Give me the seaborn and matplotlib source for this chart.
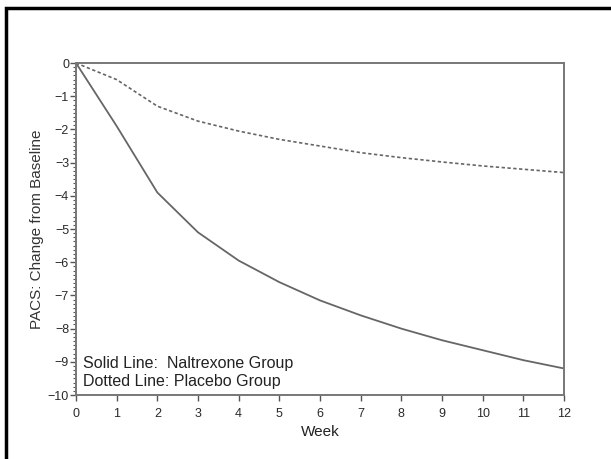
import matplotlib
matplotlib.use("Agg")
import matplotlib.pyplot as plt
from matplotlib.ticker import MultipleLocator
from matplotlib.patches import Rectangle
import seaborn as sns
import pandas as pd

weeks = [0, 1, 2, 3, 4, 5, 6, 7, 8, 9, 10, 11, 12]
naltrexone = [0, -1.9, -3.9, -5.1, -5.95, -6.6, -7.15, -7.6, -8.0, -8.35, -8.65, -8.95, -9.2]
placebo = [0, -0.5, -1.3, -1.75, -2.05, -2.3, -2.5, -2.7, -2.85, -2.98, -3.1, -3.2, -3.3]
x_ticks = list(range(0, 13))
y_ticks = list(range(-10, 1))

sns.set_theme(style="white")
plt.rcParams['font.family'] = ['Liberation Sans', 'DejaVu Sans']

df = pd.DataFrame({
    "Week": weeks * 2,
    "Change": naltrexone + placebo,
    "Group": ["Naltrexone"] * len(weeks) + ["Placebo"] * len(weeks),
})

fig = plt.figure(figsize=(6.11, 4.59), dpi=100)
ax = fig.add_axes([0.1244, 0.1394, 0.7986, 0.7233])

line_color = "#666666"
sns.lineplot(data=df[df.Group == "Naltrexone"], x="Week", y="Change", ax=ax,
             color=line_color, linewidth=1.3, linestyle="-")
sns.lineplot(data=df[df.Group == "Placebo"], x="Week", y="Change", ax=ax,
             color=line_color, linewidth=1.2, linestyle=(0, (2, 1.5)))

ax.set_xlim(0, 12)
ax.set_ylim(-10, 0)
ax.set_xticks(x_ticks)
ax.set_yticks(y_ticks)
ax.set_xticklabels([str(t) for t in x_ticks])
ax.set_yticklabels([str(t).replace("-", "\u2212") for t in y_ticks])
ax.yaxis.set_minor_locator(MultipleLocator(0.125))
ax.tick_params(axis="both", which="major", direction="out", length=4, width=1,
               color="#555555", labelsize=9, left=True, bottom=True,
               labelcolor="#2a2a2a")
ax.tick_params(axis="y", which="major", pad=1)
ax.tick_params(axis="x", which="major", pad=5)
ax.tick_params(axis="y", which="minor", direction="out", length=2, width=0.8,
               color="#555555", left=True)
for s in ax.spines.values():
    s.set_color("#777777")
    s.set_linewidth(1.4)

ax.set_xlabel("Week", fontsize=11, color="#222222", labelpad=4)
ax.set_ylabel("PACS: Change from Baseline", fontsize=11, color="#333333", labelpad=3)

ax.text(0.17, -9.04, "Solid Line:  Naltrexone Group", fontsize=11.5, color="#222222",
        va="center", ha="left")
ax.text(0.17, -9.6, "Dotted Line: Placebo Group", fontsize=11.5, color="#222222",
        va="center", ha="left")

fig.patches.append(Rectangle((6 / 611, -0.1), 1.2, 1 - 8 / 459 + 0.1, transform=fig.transFigure,
                             fill=False, edgecolor="black", linewidth=2.5))

fig.savefig("out.png", dpi=100)
